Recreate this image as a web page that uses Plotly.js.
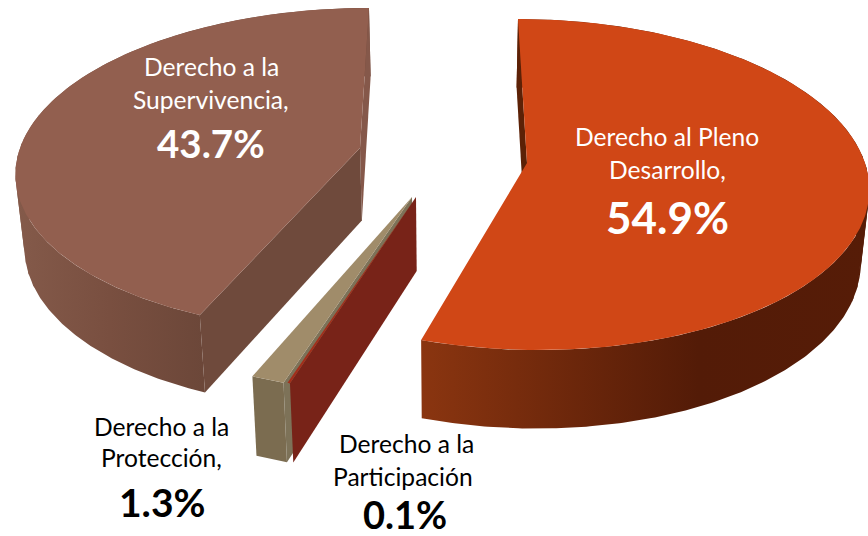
<!DOCTYPE html>
<html><head><meta charset="utf-8">
<script src="https://cdn.plot.ly/plotly-3.0.1.min.js"></script>
<style>html,body{margin:0;padding:0;background:#fff;overflow:hidden}#c{width:868px;height:536px}</style>
</head><body><div id="c"></div>
<script>
// Data
const categories = ["Derecho al Pleno Desarrollo", "Derecho a la Participación", "Derecho a la Protección", "Derecho a la Supervivencia"];
const values = [54.9, 0.1, 1.3, 43.7];
const valueLabels = ["54.9%", "0.1%", "1.3%", "43.7%"];

// Exploded-wedge projection settings (apex, semi-axes, perspective k, shear t)
const geo = [
  {ax:527, ay:163, a:338, b:162.7, k:0.0008,  t:0.0625},
  {ax:416, ay:197, a:362, b:170,   k:0.0008,  t:0},
  {ax:412, ay:197, a:362, b:170,   k:0.0008,  t:0},
  {ax:360, ay:148, a:340, b:158.8, k:0.00084, t:-0.064}
];
const total = values.reduce((s,v)=>s+v,0);
let acc = 0;
const spans = values.map(v=>{const s=acc/total*2*Math.PI; acc+=v; return [s, acc/total*2*Math.PI];});

function rim(g, th){
  const u = g.a*Math.sin(th), v = -g.b*Math.cos(th), w = 1 - g.k*v;
  const dy = v/w;
  return [g.ax + u/w + g.t*dy, g.ay + dy];
}
function drop(p){ return [p[0] + 0.0207*(450-p[0]), p[1] + 68 + 0.03*p[1]]; }
function arc(g, s){
  const n = Math.max(2, Math.ceil((s[1]-s[0])/0.01)), pts=[];
  for(let i=0;i<=n;i++) pts.push(rim(g, s[0]+(s[1]-s[0])*i/n));
  return pts;
}
const traces=[];
function poly(pts, color, grad){
  const tr = {type:'scatter', mode:'lines', x:pts.map(p=>p[0]).concat(pts[0][0]), y:pts.map(p=>p[1]).concat(pts[0][1]),
    fill:'toself', line:{width:0, color:color}, hoverinfo:'skip', showlegend:false};
  if(grad) tr.fillgradient = {type:'horizontal', colorscale:grad.scale, start:grad.start, stop:grad.stop};
  else tr.fillcolor = color;
  traces.push(tr);
}
function topFace(i,c){ const g=geo[i]; poly([[g.ax,g.ay]].concat(arc(g,spans[i])), c); }
// wall is drawn in overlapping runs split around the silhouette so the fold does not cancel the fill
function wall(i,c,grad,splitsDeg){
  const s=spans[i], cuts=[s[0]].concat((splitsDeg||[]).map(d=>d*Math.PI/180)).concat(s[1]);
  for(let j=0;j<cuts.length-1;j++){
    const a=arc(geo[i],[Math.max(s[0],cuts[j]-0.02),cuts[j+1]]);
    poly(a.concat(a.map(drop).reverse()), c, grad);
  }
}
function cut(i,th,c){ const g=geo[i], ap=[g.ax,g.ay], r=rim(g,th); poly([ap,r,drop(r),drop(ap)], c); }

// Supervivencia
wall(3,'#764c3e',{start:16,stop:203,scale:[[0,'#845a4a'],[0.5,'#794f40'],[1,'#6c4739']]},[248,252,256,260,264,268,272]);
cut(3,spans[3][1],'#85584a');
cut(3,spans[3][0],'#6f4a3c');
topFace(3,'#925f4f');
// Protección
wall(2,'#7b6c50');
cut(2,spans[2][0],'#7d7258');
topFace(2,'#a08c6a');
// Participación
cut(1,spans[1][0],'#782318');
topFace(1,'#a32e1a');
// Pleno Desarrollo
wall(0,'#6a260c',{start:422,stop:868,scale:[[0,'#8a3510'],[0.62,'#531b07'],[1,'#561c07']]},[88,92,96,100,104,108,112]);
cut(0,spans[0][0],'#5c2106');
topFace(0,'#d04716');

const ink='#000000', white='#ffffff';
function note(x,y,text,size,color,bold){
  return {x:x,y:y,xref:'x',yref:'y',text:bold?'<b>'+text+'</b>':text,showarrow:false,xanchor:'center',yanchor:'middle',
    font:{family:'Lato, Carlito, sans-serif',size:size,color:color}};
}
const annotations=[
  note(211,66,'Derecho a la',24.6,white),
  note(211,99,'Supervivencia,',24.6,white),
  note(211,143,valueLabels[3],38.5,white,true),
  note(667,136,'Derecho al Pleno',24.6,white),
  note(667,169,'Desarrollo,',24.6,white),
  note(667,217,valueLabels[0],44,white,true),
  note(161,426,'Derecho a la',24.6,ink),
  note(161,457,'Protección,',24.6,ink),
  note(162,502,valueLabels[2],39,ink,true),
  note(406,443,'Derecho a la',24.6,ink),
  note(403,476,'Participación',24.6,ink),
  note(405,514,valueLabels[1],38,ink,true)
];
Plotly.newPlot('c',traces,{
  width:868,height:536,margin:{l:0,r:0,t:0,b:0},paper_bgcolor:'#fff',plot_bgcolor:'#fff',
  xaxis:{range:[0,868],visible:false,fixedrange:true},
  yaxis:{range:[536,0],visible:false,fixedrange:true},
  annotations:annotations,showlegend:false
},{displayModeBar:false,staticPlot:true});
</script></body></html>
